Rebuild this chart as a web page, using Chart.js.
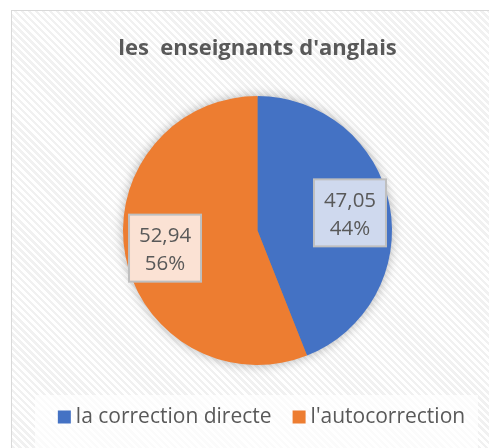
<!DOCTYPE html>
<html>
<head>
<meta charset="utf-8">
<script src="https://cdn.jsdelivr.net/npm/chart.js@4/dist/chart.umd.min.js"></script>
<style>
  html, body { margin: 0; padding: 0; width: 489px; height: 448px; overflow: hidden; background: #fff; }
  #frame {
    position: absolute; left: 11px; top: 10px; width: 490px; height: 450px;
    border: 1px solid #D9D9D9; box-sizing: border-box;
    background: repeating-linear-gradient(45deg, #FFFFFF 0px, #FFFFFF 2.5px, #F1F1F1 2.5px, #F1F1F1 5px);
  }
  #legendbg { position: absolute; left: 35px; top: 395px; width: 443px; height: 60px; background: rgba(255,255,255,0.7); }
  canvas { position: absolute; left: 0; top: 0; }
</style>
</head>
<body>
<div id="frame"></div>
<div id="legendbg"></div>
<canvas id="c" width="489" height="448"></canvas>
<script>
const chartTitle = "les  enseignants d'anglais";
const categories = ["la correction directe", "l'autocorrection"];
const values = [47.05, 52.94];
const percents = [44, 56];
const colors = ["#4472C4", "#ED7D31"];
const labelFills = ["#CFD9EE", "#FBE2D4"];

const FONT = "'Open Sans', 'Liberation Sans', sans-serif";
const TEXT = "#595959";

const shadowPlugin = {
  id: 'shadow',
  beforeDatasetsDraw(chart) {
    const arc = chart.getDatasetMeta(0).data[0];
    if (!arc) return;
    const ctx = chart.ctx;
    ctx.save();
    ctx.shadowColor = 'rgba(0,0,0,0.35)';
    ctx.shadowBlur = 12;
    ctx.fillStyle = '#888';
    ctx.beginPath();
    ctx.arc(arc.x, arc.y, arc.outerRadius - 1, 0, Math.PI * 2);
    ctx.fill();
    ctx.restore();
  }
};

const labelPlugin = {
  id: 'boxLabels',
  afterDatasetsDraw(chart) {
    const ctx = chart.ctx;
    chart.getDatasetMeta(0).data.forEach((arc, i) => {
      const mid = (arc.startAngle + arc.endAngle) / 2;
      const r = arc.outerRadius * 0.70;
      const x = arc.x + Math.cos(mid) * r;
      const y = arc.y + Math.sin(mid) * r;
      const w = 72, h = 67;
      ctx.save();
      ctx.fillStyle = labelFills[i];
      ctx.fillRect(x - w / 2, y - h / 2, w, h);
      ctx.strokeStyle = '#BFBFBF';
      ctx.lineWidth = 2;
      ctx.strokeRect(x - w / 2, y - h / 2, w, h);
      ctx.fillStyle = TEXT;
      ctx.font = "20.5px " + FONT;
      ctx.textAlign = 'center';
      ctx.textBaseline = 'alphabetic';
      ctx.fillText(values[i].toFixed(2).replace('.', ','), x, y - 6);
      ctx.fillText(percents[i] + '%', x, y + 22);
      ctx.restore();
    });
  }
};

const decorPlugin = {
  id: 'decor',
  afterDraw(chart) {
    const ctx = chart.ctx;
    ctx.save();
    // title
    ctx.fillStyle = TEXT;
    ctx.font = "bold 22px " + FONT;
    ctx.textAlign = 'center';
    ctx.textBaseline = 'alphabetic';
    ctx.fillText(chartTitle, 257.5, 55);
    // legend
    ctx.font = "21px " + FONT;
    ctx.textAlign = 'left';
    ctx.textBaseline = 'middle';
    const sq = 13, gap = 5, itemGap = 21;
    const widths = categories.map(t => ctx.measureText(t).width);
    let total = 0;
    widths.forEach((w, i) => { total += sq + gap + w + (i < widths.length - 1 ? itemGap : 0); });
    let x = 261.5 - total / 2;
    const cy = 417;
    categories.forEach((t, i) => {
      ctx.fillStyle = colors[i];
      ctx.fillRect(x, cy - sq / 2, sq, sq);
      ctx.fillStyle = TEXT;
      ctx.fillText(t, x + sq + gap, cy);
      x += sq + gap + widths[i] + itemGap;
    });
    ctx.restore();
  }
};

new Chart(document.getElementById('c'), {
  type: 'pie',
  data: {
    labels: categories,
    datasets: [{
      data: percents,
      backgroundColor: colors,
      borderWidth: 0
    }]
  },
  options: {
    responsive: false,
    animation: false,
    layout: { padding: { left: 123, right: 97, top: 96, bottom: 83 } },
    plugins: {
      legend: { display: false },
      title: { display: false },
      tooltip: { enabled: false }
    }
  },
  plugins: [shadowPlugin, labelPlugin, decorPlugin]
});
</script>
</body>
</html>
